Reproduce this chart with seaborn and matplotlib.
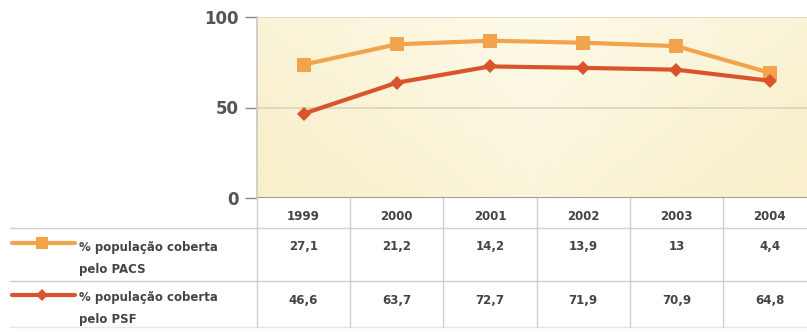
import matplotlib
matplotlib.use("Agg")
import matplotlib.pyplot as plt
import seaborn as sns
import numpy as np
import pandas as pd

years = ["1999", "2000", "2001", "2002", "2003", "2004"]
pacs = [27.1, 21.2, 14.2, 13.9, 13, 4.4]
psf = [46.6, 63.7, 72.7, 71.9, 70.9, 64.8]
pacs_label = ["% população coberta", "pelo PACS"]
psf_label = ["% população coberta", "pelo PSF"]
yticks = [0, 50, 100]

c_pacs = "#F2A44C"
c_psf = "#D9532D"
txt = "#444444"

sns.set_theme(style="white")
plt.rcParams['font.family'] = ['DejaVu Sans']

W, H = 807, 332
fig = plt.figure(figsize=(W / 100, H / 100), dpi=100)

# plot area in pixel coords
L, R, T, B = 257, 807, 17, 198
colw = 93.2
ax = fig.add_axes([L / W, 1 - B / H, (R - L) / W, (B - T) / H])
xmax = -0.5 + (R - L) / colw

# stacked line: PACS drawn on top of PSF
stack = [a + b for a, b in zip(pacs, psf)]
df = pd.DataFrame({
    "x": list(range(len(years))) * 2,
    "y": stack + psf,
    "s": ["PACS"] * len(years) + ["PSF"] * len(years),
})
ax.set_facecolor("#FBF6DD")
gx = np.linspace(0, 1, 200)
gy = np.linspace(0, 1, 100)
GX, GY = np.meshgrid(gx, gy)
G = np.clip(0.6 * np.abs(GX - 0.5) * 2 + 0.5 * (1 - GY), 0, 1)
ax.imshow(G, extent=[-0.5, xmax, 0, 100], aspect="auto", origin="lower",
          cmap=matplotlib.colors.LinearSegmentedColormap.from_list("g", ["#FDFAE8", "#F8EFCB"]),
          zorder=0)
sns.lineplot(data=df, x="x", y="y", hue="s", style="s",
             palette={"PACS": c_pacs, "PSF": c_psf},
             markers={"PACS": "s", "PSF": "D"}, dashes=False,
             markersize=10, linewidth=3, markeredgewidth=0, ax=ax, legend=False, zorder=3)
for ln in ax.lines:
    if ln.get_marker() == "D":
        ln.set_markersize(7)

ax.set_xlim(-0.5, xmax)
ax.set_ylim(0, 100)
ax.set_yticks(yticks)
ax.set_yticklabels([str(v) for v in yticks], fontsize=12, fontweight="bold", color="#555555")
ax.set_xticks([])
ax.set_xlabel("")
ax.set_ylabel("")
for v in [50, 100]:
    ax.axhline(v, color="#D9D4BC", lw=1.2, zorder=1)
for s in ["top", "right", "bottom"]:
    ax.spines[s].set_visible(False)
ax.spines["left"].set_color("#C8C8C8")
ax.tick_params(axis="y", length=9, color="#888888", width=1, pad=4, left=True)
ax.axhline(0, color="#888888", lw=1.2, zorder=2)

# table overlay in pixel coordinates
ov = fig.add_axes([0, 0, 1, 1], facecolor="none")
ov.set_xlim(0, W)
ov.set_ylim(H, 0)
ov.axis("off")

header_bot, row1_bot, row2_bot = 228, 281, 327
gc = "#CFCFCF"

ov.plot([10, R], [header_bot, header_bot], color=gc, lw=1)
ov.plot([10, R], [row1_bot, row1_bot], color=gc, lw=1)
ov.plot([10, R], [row2_bot, row2_bot], color="#E6E6E6", lw=1)
for i in range(len(years) + 1):
    x = L + i * colw
    if x <= W:
        ov.plot([x, x], [B, row2_bot], color=gc, lw=1)

fs = 8.5
for i, yr in enumerate(years):
    xc = L + (i + 0.5) * colw
    ov.text(xc, 216, yr, ha="center", va="center",
            fontsize=fs, fontweight="bold", color=txt)
    ov.text(xc, 247, str(pacs[i]).replace(".", ","), ha="center", va="center",
            fontsize=fs, fontweight="bold", color=txt)
    ov.text(xc, 300, str(psf[i]).replace(".", ","), ha="center", va="center",
            fontsize=fs, fontweight="bold", color=txt)

# legend rows
for (yy, t1, t2, col, mk, ms, lab) in [(243, 247, 270, c_pacs, "s", 8, pacs_label),
                                      (295, 298, 319, c_psf, "D", 6, psf_label)]:
    ov.plot([12, 75], [yy, yy], color=col, lw=3)
    ov.plot([42], [yy], marker=mk, color=col, markersize=ms, markeredgewidth=0)
    ov.text(79, t1, lab[0], ha="left", va="center", fontsize=fs, fontweight="bold", color=txt)
    ov.text(79, t2, lab[1], ha="left", va="center", fontsize=fs, fontweight="bold", color=txt)

fig.savefig("out.png", dpi=100)
